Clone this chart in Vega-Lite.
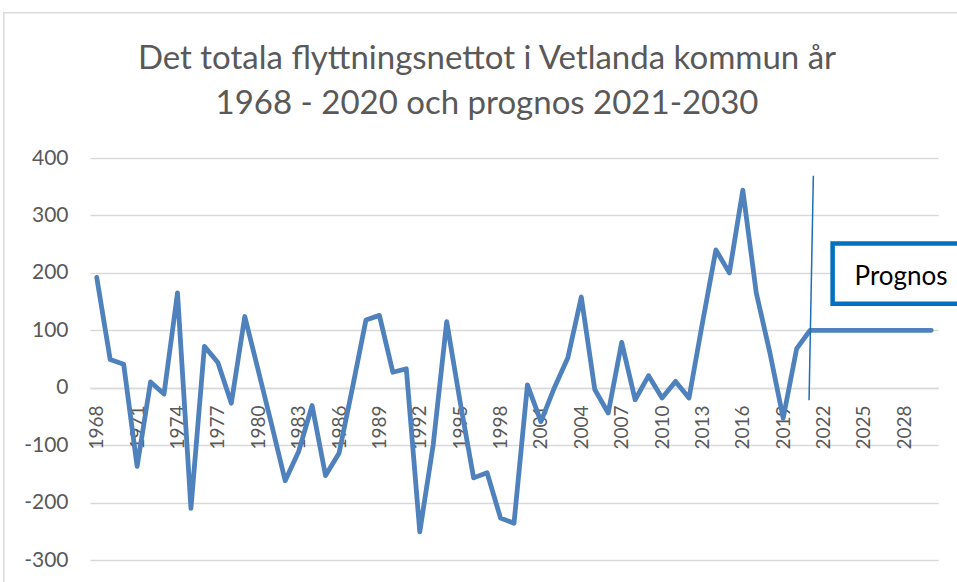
{
  "$schema": "https://vega.github.io/schema/vega-lite/v6.json",
  "width": 848,
  "height": 402,
  "autosize": {"type": "none"},
  "padding": {"left": 90, "top": 158, "right": 19, "bottom": 22},
  "background": "white",
  "config": {"view": {"stroke": null}, "font": "Lato"},
  "title": {
    "text": ["Det totala flyttningsnettot i Vetlanda kommun år", "1968 - 2020 och prognos 2021-2030"],
    "font": "Lato",
    "fontSize": 33,
    "fontWeight": "normal",
    "color": "#595959",
    "lineHeight": 45,
    "anchor": "middle",
    "baseline": "alphabetic",
    "dx": -27,
    "offset": -135
  },
  "datasets": {
    "migration": [
      {"year": 1968, "value": 192}, {"year": 1969, "value": 49}, {"year": 1970, "value": 41},
      {"year": 1971, "value": -137}, {"year": 1972, "value": 10}, {"year": 1973, "value": -11},
      {"year": 1974, "value": 165}, {"year": 1975, "value": -210}, {"year": 1976, "value": 72},
      {"year": 1977, "value": 44}, {"year": 1978, "value": -27}, {"year": 1979, "value": 124},
      {"year": 1980, "value": 30}, {"year": 1981, "value": -65}, {"year": 1982, "value": -162},
      {"year": 1983, "value": -111}, {"year": 1984, "value": -31}, {"year": 1985, "value": -153},
      {"year": 1986, "value": -114}, {"year": 1987, "value": 0}, {"year": 1988, "value": 118},
      {"year": 1989, "value": 126}, {"year": 1990, "value": 27}, {"year": 1991, "value": 33},
      {"year": 1992, "value": -251}, {"year": 1993, "value": -99}, {"year": 1994, "value": 115},
      {"year": 1995, "value": -25}, {"year": 1996, "value": -157}, {"year": 1997, "value": -148},
      {"year": 1998, "value": -227}, {"year": 1999, "value": -236}, {"year": 2000, "value": 5},
      {"year": 2001, "value": -59}, {"year": 2002, "value": 0}, {"year": 2003, "value": 52},
      {"year": 2004, "value": 158}, {"year": 2005, "value": -3}, {"year": 2006, "value": -44},
      {"year": 2007, "value": 79}, {"year": 2008, "value": -21}, {"year": 2009, "value": 21},
      {"year": 2010, "value": -18}, {"year": 2011, "value": 11}, {"year": 2012, "value": -18},
      {"year": 2013, "value": 113}, {"year": 2014, "value": 240}, {"year": 2015, "value": 200},
      {"year": 2016, "value": 344}, {"year": 2017, "value": 165}, {"year": 2018, "value": 62},
      {"year": 2019, "value": -53}, {"year": 2020, "value": 68}, {"year": 2021, "value": 100},
      {"year": 2022, "value": 100}, {"year": 2023, "value": 100}, {"year": 2024, "value": 100},
      {"year": 2025, "value": 100}, {"year": 2026, "value": 100}, {"year": 2027, "value": 100},
      {"year": 2028, "value": 100}, {"year": 2029, "value": 100}, {"year": 2030, "value": 100}
    ],
    "frame": [{"x1": 1961.1, "x2": 2040, "y1": 653, "y2": -420}],
    "divider": [{"x1": 2021.24, "y1": 369, "x2": 2020.92, "y2": -22}],
    "box": [{"x1": 2022.67, "x2": 2035, "y1": 251, "y2": 146, "label": "Prognos", "tx": 2024.3, "ty": 178}]
  },
  "layer": [
    {
      "data": {"name": "frame"},
      "mark": {"type": "rect", "fillOpacity": 0, "fill": "white", "stroke": "#d9d9d9", "strokeWidth": 1.5, "clip": false},
      "encoding": {
        "x": {"field": "x1", "type": "quantitative", "scale": {"domain": [1967.5, 2030.5], "nice": false, "zero": false}, "axis": {
          "values": [1968, 1971, 1974, 1977, 1980, 1983, 1986, 1989, 1992, 1995, 1998, 2001, 2004, 2007, 2010, 2013, 2016, 2019, 2022, 2025, 2028],
          "format": "d", "labelAngle": -90, "grid": false, "ticks": false, "domainColor": "#d9d9d9", "domainWidth": 1.5,
          "offset": -172, "labelPadding": 17, "labelColor": "#595959", "labelFont": "Lato", "labelFontSize": 19,
          "labelOverlap": false, "labelFlush": false, "zindex": 0, "title": null}},
        "x2": {"field": "x2"},
        "y": {"field": "y1", "type": "quantitative", "scale": {"domain": [-300, 400], "nice": false, "zero": false}, "axis": {
          "values": [-300, -200, -100, 0, 100, 200, 300, 400], "labelExpr": "'' + datum.value", "grid": true, "gridColor": "#d9d9d9", "gridWidth": 1.5,
          "domain": false, "ticks": false, "labelPadding": 22, "labelColor": "#595959", "labelFont": "Lato",
          "labelFontSize": 21, "labelFlush": false, "zindex": 0, "title": null}},
        "y2": {"field": "y2"}
      }
    },
    {
      "data": {"name": "migration"},
      "mark": {"type": "line", "color": "#4f81bd", "strokeWidth": 4.8, "strokeJoin": "round", "strokeCap": "round"},
      "encoding": {
        "x": {"field": "year", "type": "quantitative"},
        "y": {"field": "value", "type": "quantitative"}
      }
    },
    {
      "data": {"name": "divider"},
      "mark": {"type": "rule", "color": "#1f6fb5", "strokeWidth": 1.5},
      "encoding": {
        "x": {"field": "x1", "type": "quantitative"},
        "y": {"field": "y1", "type": "quantitative"},
        "x2": {"field": "x2"},
        "y2": {"field": "y2"}
      }
    },
    {
      "data": {"name": "box"},
      "mark": {"type": "rect", "fill": "white", "stroke": "#0070c0", "strokeWidth": 4.5, "clip": false},
      "encoding": {
        "x": {"field": "x1", "type": "quantitative"},
        "x2": {"field": "x2"},
        "y": {"field": "y1", "type": "quantitative"},
        "y2": {"field": "y2"}
      }
    },
    {
      "data": {"name": "box"},
      "mark": {"type": "text", "align": "left", "baseline": "alphabetic", "font": "Lato", "fontSize": 26, "color": "black"},
      "encoding": {
        "x": {"field": "tx", "type": "quantitative"},
        "y": {"field": "ty", "type": "quantitative"},
        "text": {"field": "label"}
      }
    }
  ]
}
